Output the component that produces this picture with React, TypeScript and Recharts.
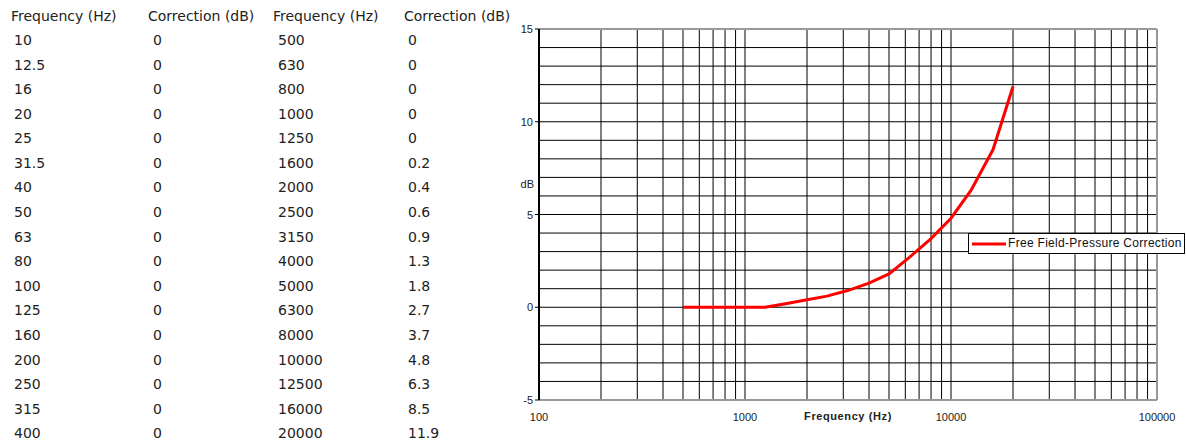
import { LineChart, Line, XAxis, YAxis, CartesianGrid, Legend, ReferenceLine, Label } from 'recharts'

// table columns
const LOW_FREQ = ['10', '12.5', '16', '20', '25', '31.5', '40', '50', '63', '80', '100', '125', '160', '200', '250', '315', '400']
const LOW_CORR = [0, 0, 0, 0, 0, 0, 0, 0, 0, 0, 0, 0, 0, 0, 0, 0, 0]
const HIGH_FREQ = [500, 630, 800, 1000, 1250, 1600, 2000, 2500, 3150, 4000, 5000, 6300, 8000, 10000, 12500, 16000, 20000]
const HIGH_CORR = [0, 0, 0, 0, 0, 0.2, 0.4, 0.6, 0.9, 1.3, 1.8, 2.7, 3.7, 4.8, 6.3, 8.5, 11.9]
const HEADERS = ['Frequency (Hz)', 'Correction (dB)', 'Frequency (Hz)', 'Correction (dB)']

const X_TICKS = [
  100, 200, 300, 400, 500, 600, 700, 800, 900,
  1000, 2000, 3000, 4000, 5000, 6000, 7000, 8000, 9000,
  10000, 20000, 30000, 40000, 50000, 60000, 70000, 80000, 90000,
  100000,
]
const X_LABELED = [100, 1000, 10000, 100000]
const Y_TICKS = [-5, -4, -3, -2, -1, 0, 1, 2, 3, 4, 5, 6, 7, 8, 9, 10, 11, 12, 13, 14, 15]
const Y_LABELED = [-5, 0, 5, 10, 15]

const data = HIGH_FREQ.map((f, i) => ({ freq: f, corr: HIGH_CORR[i] }))

const tableFont = '"DejaVu Sans", Verdana, sans-serif'
const chartFont = '"Liberation Sans", Arial, sans-serif'
const HEADER_X = [11, 148, 273, 404]
const CELL_X = [14, 153, 278, 408]
const ROW_Y0 = 40
const ROW_STEP = 24.58

function YTick(props: any) {
  const { x, y, payload } = props
  if (!Y_LABELED.includes(payload.value)) return <g />
  return (
    <g>
      <line x1={x + 1} x2={x + 5} y1={y} y2={y} stroke="#000" />
      <text x={x - 1} y={y} dy={4} textAnchor="end" fontSize={11} fill="#222" fontFamily={chartFont}>
        {payload.value}
      </text>
    </g>
  )
}

function LegendBox() {
  return (
    <div
      style={{
        border: '1px solid #000',
        background: '#fff',
        display: 'flex',
        alignItems: 'center',
        padding: '1px 2px 1px 3px',
        fontFamily: chartFont,
        fontSize: 12,
        letterSpacing: 0.3,
        color: '#111',
        whiteSpace: 'nowrap',
        lineHeight: '17px',
      }}
    >
      <svg width={34} height={6} style={{ marginRight: 2 }}>
        <line x1={0} x2={34} y1={3} y2={3} stroke="#ff0000" strokeWidth={3} />
      </svg>
      Free Field-Pressure Correction
    </div>
  )
}

function Cell({ x, y, text }: { x: number; y: number; text: string }) {
  return (
    <div style={{ position: 'absolute', left: x, top: y - 8, lineHeight: '16px', fontFamily: tableFont, fontSize: 14, color: '#222', whiteSpace: 'nowrap' }}>
      {text}
    </div>
  )
}

export default function App() {
  return (
    <div style={{ position: 'fixed', left: 0, top: 0, width: 1186, height: 445, background: '#fff', overflow: 'hidden' }}>
      {HEADERS.map((h, i) => (
        <Cell key={'h' + i} x={HEADER_X[i]} y={16} text={h} />
      ))}
      {LOW_FREQ.map((f, i) => (
        <div key={'r' + i}>
          <Cell x={CELL_X[0]} y={ROW_Y0 + i * ROW_STEP} text={f} />
          <Cell x={CELL_X[1]} y={ROW_Y0 + i * ROW_STEP} text={String(LOW_CORR[i])} />
          <Cell x={CELL_X[2]} y={ROW_Y0 + i * ROW_STEP} text={String(HIGH_FREQ[i])} />
          <Cell x={CELL_X[3]} y={ROW_Y0 + i * ROW_STEP} text={String(HIGH_CORR[i])} />
        </div>
      ))}

      <div style={{ position: 'absolute', left: 480, top: 0 }}>
        <LineChart width={706} height={445} data={data} margin={{ top: 29, right: 29, bottom: 15, left: 0 }}>
          <CartesianGrid stroke="#000" strokeWidth={1} />
          <XAxis
            dataKey="freq"
            type="number"
            scale="log"
            domain={[100, 100000]}
            ticks={X_TICKS}
            interval={0}
            allowDataOverflow
            tickLine={false}
            tickMargin={7}
            height={30}
            axisLine={{ stroke: '#999', strokeWidth: 2 }}
            tickFormatter={(v: number) => (X_LABELED.includes(v) ? String(v) : '')}
            tick={{ fontSize: 11, fill: '#222', fontFamily: chartFont }}
          >
            <Label value="Frequency (Hz)" position="center" dy={1} fontSize={11} fontWeight="bold" fill="#222" fontFamily={chartFont} letterSpacing={0.6} />
          </XAxis>
          <YAxis
            type="number"
            domain={[-5, 15]}
            ticks={Y_TICKS}
            interval={0}
            width={59}
            tickLine={false}
            tickSize={5}
            tickMargin={0}
            axisLine={{ stroke: '#000', strokeWidth: 2 }}
            tick={YTick}
          >
            <Label value="dB" position="insideRight" offset={5} dy={-30} fontSize={11} fill="#222" fontFamily={chartFont} />
          </YAxis>
          <ReferenceLine y={15} stroke="#999" strokeWidth={2} />
          <ReferenceLine x={100000} stroke="#999" strokeWidth={2} />
          <Legend
            layout="horizontal"
            verticalAlign="middle"
            align="center"
            content={<LegendBox />}
            wrapperStyle={{ left: 488, top: 233, width: 'auto', height: 'auto' }}
          />
          <Line
            type="linear"
            dataKey="corr"
            name="Free Field-Pressure Correction"
            stroke="#ff0000"
            strokeWidth={3}
            dot={false}
            isAnimationActive={false}
          />
        </LineChart>
      </div>
    </div>
  )
}
